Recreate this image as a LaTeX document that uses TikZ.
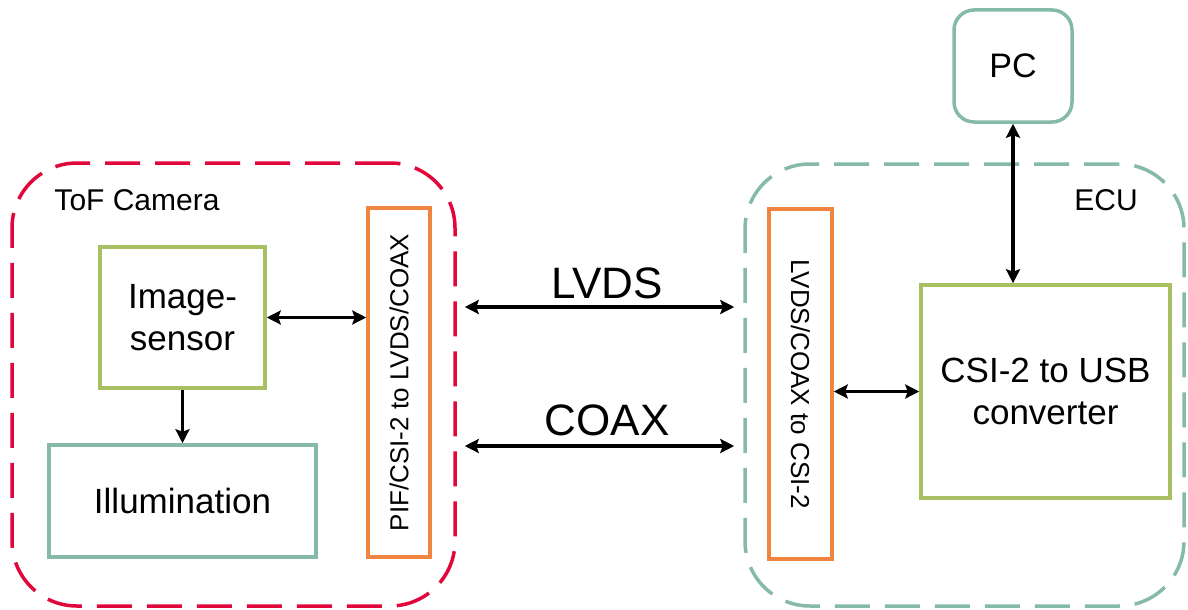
\documentclass[tikz,border=0pt]{standalone}
\usepackage{fontspec}
\setmainfont{Liberation Sans}
\usetikzlibrary{arrows.meta,calc}
\definecolor{cred}{HTML}{E2073A}
\definecolor{cteal}{HTML}{85B9A8}
\definecolor{corange}{HTML}{EF8540}
\definecolor{colive}{HTML}{A9C062}
\tikzset{
  box/.style={draw, line width=3.5pt, inner sep=0pt, align=center},
  group/.style={draw, line width=3.5pt, dash pattern=on 35pt off 15pt, rounded corners=65pt, inner sep=0pt},
  arr/.style={line width=3.3pt, {Stealth[length=14pt,width=14pt,inset=2.5pt]}-{Stealth[length=14pt,width=14pt,inset=2.5pt]}},
  arrone/.style={line width=3.3pt, -{Stealth[length=14pt,width=14pt,inset=2.5pt]}},
  big/.style={font=\fontsize{35}{42}\selectfont},
  mid/.style={font=\fontsize{30}{36}\selectfont},
  small/.style={font=\fontsize{26}{31}\selectfont},
  huge/.style={font=\fontsize{44}{52}\selectfont},
}
\begin{document}
\begin{tikzpicture}[x=1pt,y=-1pt]
\useasboundingbox (0,0) rectangle (1188,610);
% groups
\node[group, draw=cred, minimum width=443pt, minimum height=443pt] (tof) at (233.5,384.5) {};
\node[group, draw=cteal, minimum width=439pt, minimum height=442pt] (ecu) at (964.5,385) {};
\node[mid] (toflbl) at (137,200) {ToF Camera};
\node[mid] (eculbl) at (1106,200) {ECU};
% boxes
\node[box, draw=colive, big, minimum width=165pt, minimum height=141pt] (img) at (182.5,317.5) {Image-\\sensor};
\node[box, draw=cteal, big, minimum width=267pt, minimum height=112pt] (illum) at (182.5,501) {Illumination};
\node[box, draw=corange, minimum width=62pt, minimum height=349pt] (pif) at (399,382.5) {};
\node[small, rotate=90] (piflbl) at (399,382.5) {PIF/CSI-2 to LVDS/COAX};
\node[box, draw=corange, minimum width=63pt, minimum height=350pt] (conv) at (800.5,384) {};
\node[small, rotate=-90] (convlbl) at (800.5,384) {LVDS/COAX to CSI-2};
\node[box, draw=colive, big, minimum width=249pt, minimum height=213pt] (csi) at (1045.5,391.5) {CSI-2 to USB\\converter};
\node[box, draw=cteal, rounded corners=20pt, font=\fontsize{34}{40}\selectfont, minimum width=118pt, minimum height=112pt] (pc) at (1013,66) {PC};
% connectors
\draw[arr] (img.east) -- (img.east -| pif.west);
\draw[arrone] (img.south) -- (illum.north);
\draw[arr, shorten <=8pt, shorten >=9pt] (tof.east |- {(0,307)}) -- (ecu.west |- {(0,307)});
\draw[arr, shorten <=8pt, shorten >=9pt] (tof.east |- {(0,446)}) -- (ecu.west |- {(0,446)});
\node[huge] (lvds) at (607,283) {LVDS};
\node[huge] (coax) at (607,420) {COAX};
\draw[arr] (conv.east |- csi.west) -- (csi.west);
\draw[arr] (pc.south) -- (pc.south |- csi.north);
\end{tikzpicture}
\end{document}
